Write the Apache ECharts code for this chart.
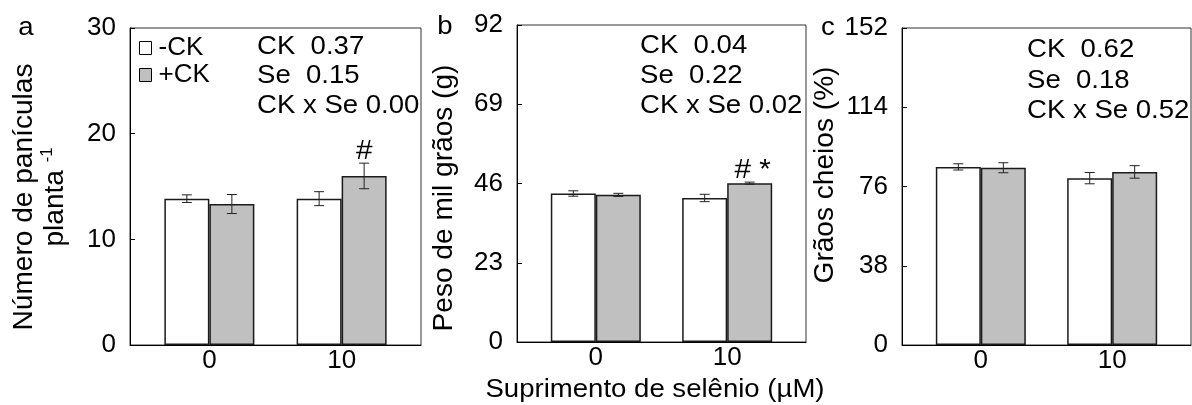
<!DOCTYPE html>
<html>
<head>
<meta charset="utf-8">
<script src="https://cdn.jsdelivr.net/npm/echarts@6/dist/echarts.min.js"></script>
<style>
html,body{margin:0;padding:0;background:#fff;}
#chart{width:1192px;height:405px;}
</style>
</head>
<body>
<div id="chart"></div>
<script>
// ---- data ----
const categories = ['0', '10'];
const seriesNames = ['-CK', '+CK'];

// panel a: Número de panículas planta-1
const aMinus = [13.85, 13.85];
const aMinusErr = [0.36, 0.66];
const aPlus = [13.34, 16.0];
const aPlusErr = [0.9, 1.21];
const aPlusMark = ['', '#'];

// panel b: Peso de mil grãos (g)
const bMinus = [43.1, 41.8];
const bMinusErr = [0.78, 1.07];
const bPlus = [42.7, 46.1];
const bPlusErr = [0.45, 0.3];
const bPlusMark = ['', '# *'];

// panel c: Grãos cheios (%)
const cMinus = [85.4, 80.0];
const cMinusErr = [1.5, 2.7];
const cPlus = [85.0, 83.0];
const cPlusErr = [2.4, 3.0];
const cPlusMark = ['', ''];

const yTicksA = [0, 10, 20, 30];
const yTicksB = [0, 23, 46, 69, 92];
const yTicksC = [0, 38, 76, 114, 152];

const statsA = ['CK  0.37', 'Se  0.15', 'CK x Se 0.00'];
const statsB = ['CK  0.04', 'Se  0.22', 'CK x Se 0.02'];
const statsC = ['CK  0.62', 'Se  0.18', 'CK x Se 0.52'];

// ---- chart ----
const FONT = 'Liberation Sans, Arial, sans-serif';
const SX = 1.06;
const chart = echarts.init(document.getElementById('chart'), null, {renderer: 'canvas'});

const grids = [
  {left: 130, top: 28, width: 291, height: 317},
  {left: 517, top: 25, width: 289, height: 317},
  {left: 902, top: 28, width: 289, height: 317}
];
const yTicks = [yTicksA, yTicksB, yTicksC];
const panels = [
  {minus: aMinus, minusErr: aMinusErr, plus: aPlus, plusErr: aPlusErr, mark: aPlusMark},
  {minus: bMinus, minusErr: bMinusErr, plus: bPlus, plusErr: bPlusErr, mark: bPlusMark},
  {minus: cMinus, minusErr: cMinusErr, plus: cPlus, plusErr: cPlusErr, mark: cPlusMark}
];

const BAR_W = 45;

const xAxes = grids.map((g, i) => ({
  type: 'value', gridIndex: i, min: -0.6, max: 1.6,
  splitLine: {show: false},
  axisLine: {show: true, onZero: false, lineStyle: {color: '#000', width: 1}},
  axisTick: {show: false},
  axisLabel: {
    show: true, customValues: [0, 1], margin: 3,
    formatter: v => categories[Math.round(v)],
    fontFamily: FONT, fontSize: 26, color: '#000'
  }
}));

const yAxes = grids.map((g, i) => {
  const t = yTicks[i];
  return {
    type: 'value', gridIndex: i, min: t[0], max: t[t.length - 1], interval: t[1] - t[0],
    splitLine: {show: false},
    axisLine: {show: true, onZero: false, lineStyle: {color: '#000', width: 1}},
    axisTick: {show: true, inside: true, length: 5, lineStyle: {color: '#000'}},
    axisLabel: {margin: 14, fontFamily: FONT, fontSize: 26, color: '#000'}
  };
});

const series = [];
panels.forEach((p, i) => {
  series.push({
    name: seriesNames[0], type: 'bar', xAxisIndex: i, yAxisIndex: i,
    barWidth: BAR_W, barGap: '0%',
    itemStyle: {color: '#ffffff', borderColor: '#1a1a1a', borderWidth: 1.5},
    data: p.minus.map((v, k) => [k, v]), z: 2
  });
  series.push({
    name: seriesNames[1], type: 'bar', xAxisIndex: i, yAxisIndex: i,
    barWidth: BAR_W, barGap: '0%',
    itemStyle: {color: '#c0c0c0', borderColor: '#1a1a1a', borderWidth: 1.5},
    data: p.plus.map((v, k) => [k, v]), z: 2
  });
  const errData = [];
  p.minus.forEach((v, k) => errData.push([k, v, p.minusErr[k], -1, '']));
  p.plus.forEach((v, k) => errData.push([k, v, p.plusErr[k], 1, p.mark[k]]));
  series.push({
    type: 'custom', xAxisIndex: i, yAxisIndex: i, z: 5, silent: true,
    data: errData,
    renderItem: function (params, api) {
      const x = api.value(0), v = api.value(1), e = api.value(2), side = api.value(3);
      const mark = api.value(4);
      const top = api.coord([x, v + e]);
      const bot = api.coord([x, v - e]);
      const cx = top[0] + side * BAR_W / 2;
      const cap = 5;
      const st = {stroke: '#222', lineWidth: 1};
      const children = [
        {type: 'line', shape: {x1: cx, y1: top[1], x2: cx, y2: bot[1]}, style: st},
        {type: 'line', shape: {x1: cx - cap, y1: top[1], x2: cx + cap, y2: top[1]}, style: st},
        {type: 'line', shape: {x1: cx - cap, y1: bot[1], x2: cx + cap, y2: bot[1]}, style: st}
      ];
      if (mark) {
        children.push({type: 'text', x: cx + (mark.length > 1 ? 3 : 0), y: top[1] - 12,
          scaleX: SX,
          style: {text: mark, fontFamily: FONT, fontSize: 28, fill: '#000',
                  textAlign: 'center', textVerticalAlign: 'middle'}});
      }
      return {type: 'group', children: children};
    }
  });
});

function txt(x, y, text, extra) {
  return {type: 'text', x: x, y: y, silent: true, scaleX: SX,
    style: Object.assign({text: text, fontFamily: FONT, fontSize: 26, fill: '#000',
      textAlign: 'left', textVerticalAlign: 'middle'}, extra || {})};
}

const graphics = [];
// panel letters
graphics.push(txt(26, 28, 'a', {textAlign: 'center'}));
graphics.push(txt(445, 27, 'b', {textAlign: 'center'}));
graphics.push(txt(828, 28, 'c', {textAlign: 'center'}));
// stats
const statPos = [[257, [47, 76, 106]], [640, [46, 76, 106]], [1027, [50, 81, 111]]];
[statsA, statsB, statsC].forEach((s, i) => {
  s.forEach((line, k) => graphics.push(txt(statPos[i][0], statPos[i][1][k], line)));
});
// y axis titles
graphics.push({type: 'text', x: 40, y: 197, rotation: Math.PI / 2, scaleX: 1.04, silent: true,
  style: {text: 'Número de panículas\nplanta {sup|-1}', fontFamily: FONT, fontSize: 27, fill: '#000',
    textAlign: 'center', textVerticalAlign: 'middle', lineHeight: 31,
    rich: {sup: {fontSize: 16, fontFamily: FONT, fill: '#000', verticalAlign: 'top', lineHeight: 31}}}});
graphics.push({type: 'text', x: 445, y: 198, rotation: Math.PI / 2, scaleX: 1.04, silent: true,
  style: {text: 'Peso de mil grãos (g)', fontFamily: FONT, fontSize: 27, fill: '#000',
    textAlign: 'center', textVerticalAlign: 'middle'}});
graphics.push({type: 'text', x: 826, y: 175, rotation: Math.PI / 2, scaleX: 1.04, silent: true,
  style: {text: 'Grãos cheios (%)', fontFamily: FONT, fontSize: 27, fill: '#000',
    textAlign: 'center', textVerticalAlign: 'middle'}});
// x axis title
graphics.push(txt(655, 390, 'Suprimento de selênio (µM)', {textAlign: 'center', fontSize: 26}));

chart.setOption({
  animation: false,
  backgroundColor: '#fff',
  grid: grids.map(g => Object.assign({show: true, borderColor: '#333', borderWidth: 1, containLabel: false}, g)),
  xAxis: xAxes,
  yAxis: yAxes,
  legend: {
    data: seriesNames, orient: 'vertical', left: 134, top: 30,
    itemWidth: 12, itemHeight: 13, itemGap: 1,
    icon: 'rect',
    itemStyle: {borderColor: '#000', borderWidth: 1},
    textStyle: {fontFamily: FONT, fontSize: 26, color: '#000', padding: [0, 0, 0, 2]},
    selectedMode: false
  },
  series: series,
  graphic: graphics
});
</script>
</body>
</html>
